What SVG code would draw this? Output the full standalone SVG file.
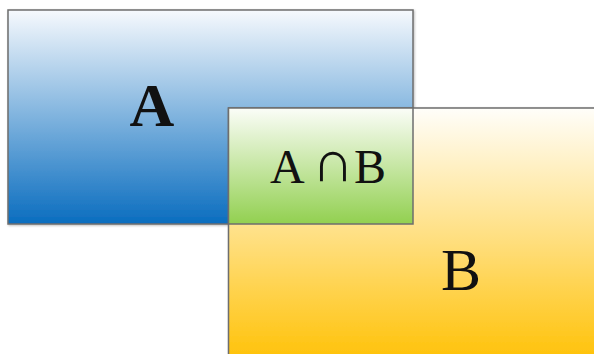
<svg xmlns="http://www.w3.org/2000/svg" width="594" height="354" viewBox="0 0 594 354">
<defs>
<linearGradient id="gA" x1="0" y1="0" x2="0" y2="1"><stop offset="0" stop-color="#f6f9fd"/><stop offset="0.5" stop-color="#7fb3de"/><stop offset="1" stop-color="#0a6dbf"/></linearGradient>
<linearGradient id="gB" x1="0" y1="0" x2="0" y2="1"><stop offset="0" stop-color="#fffefa"/><stop offset="0.5" stop-color="#ffdf80"/><stop offset="1" stop-color="#ffc000"/></linearGradient>
<linearGradient id="gC" x1="0" y1="0" x2="0" y2="1"><stop offset="0" stop-color="#fbfdf8"/><stop offset="1" stop-color="#92d050"/></linearGradient>
<filter id="sh" x="-5%" y="-5%" width="110%" height="110%"><feDropShadow dx="1" dy="1" stdDeviation="1" flood-opacity="0.25"/></filter>
</defs>
<style>
.box{stroke:#6e6e6e;stroke-width:1.5}
.t{font-family:"Liberation Serif",serif;fill:#111}
</style>
<g id="A"><rect class="box" x="8" y="10" width="405" height="214" fill="url(#gA)" filter="url(#sh)"/></g>
<g id="B"><rect class="box" x="228.5" y="108" width="380" height="260" fill="url(#gB)" filter="url(#sh)"/></g>
<g id="AB"><rect class="box" x="228.5" y="108" width="184.5" height="116" fill="url(#gC)"/></g>
<g id="connectors"/>
<text class="t" x="152" y="126" font-size="62" font-weight="bold" text-anchor="middle">A</text>
<text class="t" y="183" font-size="48"><tspan x="270">A</tspan><tspan x="312" font-size="58" dy="-2">∩</tspan><tspan x="354" dy="2">B</tspan></text>
<text class="t" x="461" y="290" font-size="60" text-anchor="middle">B</text>
</svg>
